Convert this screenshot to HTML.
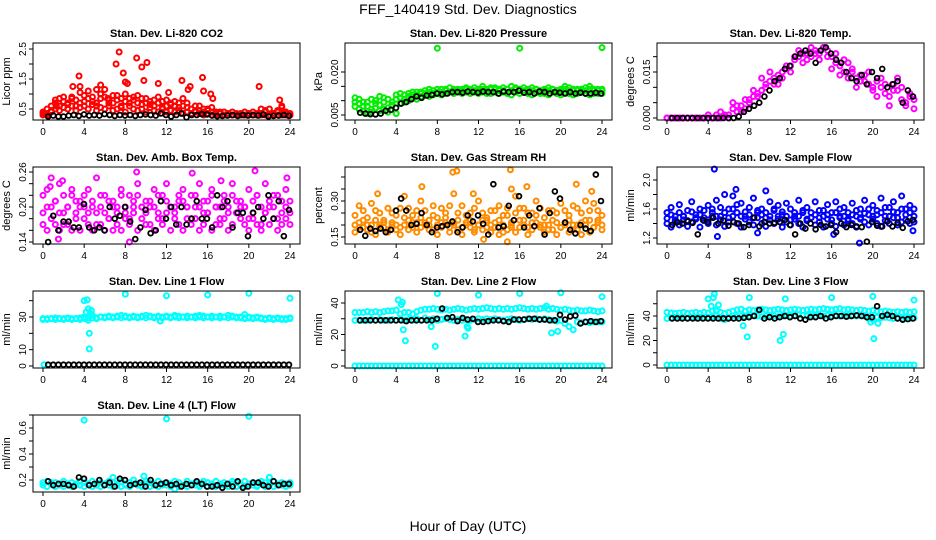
<!DOCTYPE html>
<html><head><meta charset="utf-8"><style>
html,body{margin:0;padding:0;background:#fff;}
svg{display:block;font-family:"Liberation Sans",Arial,sans-serif;}
</style></head><body>
<svg id="c" width="936" height="540" viewBox="0 0 936 540">
<text x="468" y="14" text-anchor="middle" font-size="14">FEF_140419  Std. Dev. Diagnostics</text>
<text x="468" y="531" text-anchor="middle" font-size="14">Hour of Day (UTC)</text>
</svg>
<script>
// ---------- data ----------
const xTicks = [0,4,8,12,16,20,24];
const co2A = [0.35,0.5,0.45,0.8,0.6,0.9,0.7,0.85,0.6,1.25,0.75,1.1,0.9,0.6,0.85,1.15,0.7,0.95,0.8,0.6,1.0,0.85,0.9,0.7,0.65,0.85,0.75,0.6,0.9,0.55,0.8,0.7,0.6,0.55,0.85,0.7,0.5,0.45,0.6,0.5,0.45,0.55,0.4,0.35,0.4,0.35,0.3,0.35,0.3,0.4,0.3,0.3,0.35,0.5,0.45,0.3,0.35,0.4,0.55,0.35,0.3];
const co2B = [0.3,0.3,0.4,0.5,0.45,0.55,0.5,0.6,0.45,0.55,0.6,0.5,0.65,0.45,0.55,0.5,0.6,0.45,0.5,0.55,0.4,0.6,0.5,0.45,0.5,0.4,0.55,0.45,0.4,0.5,0.4,0.45,0.4,0.45,0.35,0.4,0.35,0.4,0.35,0.3,0.35,0.3,0.3,0.35,0.3,0.3,0.3,0.3,0.3,0.3,0.3,0.3,0.3,0.3,0.3,0.3,0.3,0.3,0.3,0.3,0.3];
const co2C = [0.4,0.35,0.6,0.7,0.85,0.75,0.65,0.9,0.8,0.7,0.95,0.85,0.75,0.7,1.0,0.9,0.8,0.7,0.95,0.85,0.75,0.7,0.8,0.95,0.85,0.7,0.65,0.8,0.7,0.75,0.6,0.65,0.75,0.7,0.6,0.55,0.5,0.6,0.45,0.4,0.5,0.4,0.35,0.4,0.3,0.35,0.4,0.3,0.35,0.3,0.35,0.4,0.3,0.35,0.4,0.5,0.3,0.45,0.35,0.4,0.35];
const co2OutH = [2.9,3.5,3.6,5.2,5.6,7.1,7.4,7.8,8,9.1,9.6,9.8,10.1,11.2,13.5,14.1,14.3,15.5,15.6,16.3,16.5,21,23,23.2,1.3,6.3,8.2,12.2];
const co2OutV = [1.25,1.6,1.05,1.15,1.3,2.0,2.4,1.7,1.4,2.2,1.9,1.45,2.05,1.35,1.45,1.15,1.25,1.55,1.1,1.0,0.85,1.25,0.8,0.6,0.6,0.85,1.35,1.05];
const co2K = [0.25,0.28,0.25,0.25,0.28,0.3,0.27,0.32,0.28,0.3,0.28,0.33,0.3,0.27,0.3,0.28,0.3,0.27,0.3,0.32,0.3,0.28,0.35,0.3,0.25,0.3,0.35,0.22,0.3,0.3,0.33,0.32,0.28,0.26,0.27,0.28,0.3,0.27,0.3,0.28,0.3,0.28,0.32,0.25,0.27,0.28,0.3,0.27];

const presA = [0.011,0.009,0.008,0.0095,0.007,0.01,0.0085,0.011,0.0075,0.0095,0.012,0.011,0.0105,0.0115,0.012,0.013,0.0125,0.0135,0.013,0.0125,0.013,0.014,0.0135,0.013,0.014,0.0135,0.014,0.0145,0.014,0.0135,0.014,0.015,0.014,0.0145,0.014,0.0135,0.0145,0.014,0.015,0.0145,0.014,0.0135,0.014,0.0145,0.014,0.013,0.014,0.0145,0.014,0.0135,0.014,0.015,0.0145,0.014,0.0135,0.014,0.0145,0.015,0.014,0.0135,0.014];
const presB = [0.008,0.007,0.0065,0.0055,0.006,0.0075,0.0065,0.007,0.006,0.0085,0.0055,0.009,0.0095,0.01,0.011,0.0105,0.0115,0.012,0.0115,0.012,0.0125,0.012,0.0125,0.013,0.0125,0.013,0.0125,0.013,0.0125,0.013,0.0125,0.013,0.0125,0.0125,0.013,0.0125,0.013,0.0125,0.012,0.013,0.0125,0.013,0.0125,0.012,0.013,0.0125,0.0125,0.012,0.013,0.0125,0.012,0.013,0.0125,0.012,0.0125,0.013,0.0125,0.012,0.0125,0.0125,0.0125];
const presC = [0.0095,0.0105,0.0095,0.008,0.0105,0.009,0.0115,0.0095,0.0105,0.0085,0.0105,0.0125,0.012,0.0125,0.013,0.012,0.013,0.0125,0.014,0.0135,0.014,0.013,0.014,0.0145,0.0135,0.014,0.0135,0.014,0.0135,0.0145,0.0135,0.014,0.0135,0.014,0.0145,0.014,0.0135,0.014,0.0135,0.014,0.0135,0.0145,0.0135,0.0135,0.014,0.0135,0.0135,0.0135,0.014,0.0135,0.0135,0.014,0.0135,0.0135,0.014,0.0135,0.0135,0.014,0.0135,0.014,0.0135];
const presOutH = [8,16,24];
const presOutV = [0.0283,0.0283,0.0285];
const presK = [0.0058,0.0055,0.0053,0.0052,0.0055,0.0065,0.0068,0.0075,0.009,0.0095,0.0105,0.0115,0.011,0.0118,0.012,0.0125,0.0122,0.0125,0.013,0.013,0.0128,0.0132,0.013,0.0128,0.0132,0.013,0.013,0.0125,0.0132,0.013,0.013,0.0135,0.0128,0.013,0.0125,0.0132,0.013,0.0125,0.013,0.0128,0.0125,0.013,0.0125,0.0128,0.0125,0.0125,0.0128,0.0125];

const tempA = [0,0,0,0,0,0,0,0,0,0,0.001,0,0.001,0,0.0005,0.001,0.003,0.002,0.004,0.003,0.006,0.007,0.008,0.009,0.011,0.012,0.013,0.011,0.015,0.016,0.017,0.019,0.02,0.018,0.021,0.02,0.022,0.021,0.023,0.022,0.02,0.021,0.017,0.015,0.018,0.016,0.013,0.012,0.014,0.011,0.009,0.012,0.01,0.008,0.007,0.011,0.009,0.006,0.005,0.008,0.006];
const tempB = [0,0,0,0,0,0,0,0,0,0,0,0,0,0.002,0.001,0,0.005,0.004,0.002,0.006,0.005,0.009,0.007,0.013,0.01,0.015,0.011,0.014,0.013,0.017,0.015,0.02,0.022,0.021,0.019,0.023,0.021,0.019,0.023,0.02,0.016,0.018,0.014,0.019,0.013,0.015,0.01,0.014,0.012,0.015,0.01,0.007,0.013,0.011,0.004,0.009,0.013,0.01,0.004,0.007,0.003];
const tempK = [0,0,0,0,0,0,0,0,0,0,0,0,0,0.0005,0.002,0.003,0.004,0.005,0.007,0.009,0.012,0.013,0.016,0.017,0.02,0.021,0.022,0.021,0.018,0.022,0.023,0.021,0.019,0.018,0.015,0.013,0.012,0.014,0.011,0.015,0.013,0.016,0.01,0.011,0.012,0.005,0.009,0.007];

const ambA = [0.19,0.23,0.18,0.21,0.24,0.17,0.2,0.22,0.19,0.21,0.18,0.23,0.2,0.17,0.22,0.19,0.21,0.16,0.2,0.23,0.18,0.22,0.19,0.24,0.2,0.21,0.17,0.23,0.19,0.22,0.24,0.2,0.18,0.21,0.23,0.2,0.22,0.18,0.24,0.19,0.21,0.23,0.17,0.2,0.22,0.19,0.24,0.21,0.18,0.2,0.23,0.19,0.22,0.17,0.24,0.2,0.22,0.18,0.21,0.23,0.19];
const ambB = [0.17,0.16,0.2,0.17,0.16,0.19,0.17,0.16,0.18,0.16,0.2,0.17,0.16,0.19,0.17,0.16,0.18,0.2,0.17,0.16,0.19,0.17,0.2,0.16,0.18,0.17,0.2,0.16,0.18,0.17,0.19,0.16,0.2,0.17,0.16,0.18,0.17,0.2,0.16,0.17,0.19,0.16,0.2,0.17,0.18,0.16,0.17,0.19,0.2,0.17,0.16,0.18,0.17,0.16,0.19,0.17,0.18,0.16,0.17,0.18,0.17];
const ambC = [0.22,0.2,0.25,0.21,0.19,0.22,0.2,0.23,0.21,0.2,0.22,0.19,0.21,0.25,0.2,0.22,0.18,0.21,0.19,0.22,0.2,0.18,0.21,0.22,0.2,0.19,0.21,0.2,0.22,0.18,0.21,0.2,0.19,0.22,0.21,0.2,0.18,0.22,0.2,0.21,0.19,0.22,0.2,0.18,0.21,0.2,0.22,0.19,0.21,0.2,0.18,0.21,0.22,0.2,0.19,0.21,0.2,0.22,0.19,0.2,0.21];
const ambOutH = [0.7,1.5,1.9,9.1,14.5,20.6,23.7,8.4,17.3];
const ambOutV = [0.235,0.145,0.245,0.26,0.258,0.262,0.25,0.14,0.245];
const ambK = [0.14,0.185,0.16,0.175,0.175,0.165,0.165,0.205,0.165,0.16,0.165,0.16,0.2,0.18,0.185,0.2,0.175,0.145,0.165,0.195,0.155,0.16,0.21,0.18,0.2,0.17,0.2,0.17,0.18,0.21,0.18,0.18,0.165,0.22,0.2,0.21,0.165,0.19,0.19,0.15,0.19,0.2,0.18,0.22,0.18,0.21,0.15,0.195];

const rhA = [0.2,0.28,0.19,0.23,0.17,0.26,0.2,0.22,0.18,0.25,0.2,0.27,0.32,0.22,0.19,0.26,0.3,0.21,0.18,0.24,0.2,0.27,0.23,0.19,0.33,0.22,0.28,0.2,0.25,0.18,0.3,0.22,0.19,0.26,0.21,0.28,0.17,0.24,0.2,0.32,0.22,0.27,0.19,0.25,0.3,0.2,0.23,0.18,0.26,0.21,0.29,0.2,0.24,0.18,0.27,0.21,0.3,0.22,0.19,0.26,0.2];
const rhB = [0.17,0.19,0.22,0.18,0.2,0.16,0.19,0.21,0.17,0.2,0.18,0.16,0.2,0.18,0.21,0.17,0.19,0.2,0.22,0.18,0.16,0.19,0.21,0.17,0.2,0.18,0.16,0.21,0.19,0.17,0.2,0.18,0.22,0.17,0.19,0.16,0.2,0.18,0.21,0.17,0.19,0.2,0.16,0.18,0.21,0.19,0.17,0.2,0.18,0.16,0.19,0.21,0.17,0.2,0.18,0.16,0.2,0.17,0.19,0.21,0.18];
const rhC = [0.24,0.21,0.26,0.2,0.29,0.22,0.25,0.19,0.27,0.21,0.24,0.19,0.23,0.27,0.24,0.21,0.23,0.26,0.2,0.28,0.23,0.21,0.25,0.28,0.21,0.25,0.19,0.24,0.22,0.27,0.2,0.25,0.23,0.2,0.26,0.22,0.24,0.27,0.19,0.25,0.27,0.22,0.25,0.21,0.24,0.27,0.2,0.26,0.22,0.25,0.19,0.26,0.22,0.28,0.2,0.25,0.22,0.26,0.29,0.22,0.24];
const rhOutH = [9.5,9.9,15.1,14.8,2.2,6.5,11.5,16.7,21.5,23,12.5,15.2];
const rhOutV = [0.42,0.425,0.43,0.13,0.33,0.36,0.33,0.36,0.37,0.34,0.14,0.35];
const rhK = [0.18,0.155,0.185,0.175,0.185,0.17,0.18,0.26,0.31,0.26,0.2,0.205,0.25,0.2,0.17,0.19,0.195,0.2,0.215,0.17,0.19,0.24,0.215,0.24,0.205,0.16,0.37,0.19,0.195,0.28,0.22,0.32,0.19,0.24,0.195,0.27,0.16,0.25,0.34,0.31,0.21,0.18,0.165,0.2,0.185,0.175,0.41,0.3];

const sfA = [1.55,1.62,1.5,1.66,1.45,1.58,1.7,1.52,1.6,1.48,1.65,1.55,1.72,1.5,1.8,1.6,1.78,1.55,1.68,1.5,1.62,1.75,1.55,1.6,1.48,1.7,1.58,1.65,1.52,1.68,1.6,1.5,1.72,1.55,1.62,1.48,1.7,1.58,1.5,1.66,1.55,1.7,1.48,1.62,1.55,1.68,1.5,1.6,1.72,1.52,1.65,1.58,1.75,1.5,1.62,1.7,1.55,1.78,1.6,1.65,1.6];
const sfB = [1.4,1.35,1.45,1.38,1.5,1.36,1.42,1.48,1.35,1.44,1.4,1.5,1.38,1.45,1.36,1.42,1.5,1.4,1.35,1.46,1.42,1.38,1.48,1.4,1.36,1.45,1.4,1.5,1.35,1.42,1.38,1.46,1.4,1.35,1.44,1.48,1.38,1.42,1.35,1.46,1.4,1.36,1.5,1.38,1.44,1.4,1.35,1.46,1.42,1.38,1.5,1.4,1.36,1.44,1.4,1.48,1.38,1.42,1.45,1.4,1.42];
const sfC = [1.47,1.52,1.42,1.55,1.5,1.44,1.56,1.46,1.52,1.58,1.45,1.6,1.5,1.62,1.55,1.48,1.6,1.66,1.5,1.56,1.52,1.48,1.58,1.52,1.55,1.5,1.6,1.46,1.56,1.5,1.45,1.55,1.5,1.58,1.46,1.55,1.52,1.48,1.58,1.52,1.45,1.55,1.6,1.5,1.46,1.52,1.58,1.48,1.54,1.6,1.46,1.52,1.55,1.62,1.5,1.56,1.48,1.6,1.52,1.55,1.5];
const sfOutH = [4.6,4.9,9.6,6.7,16.2,18.7,23.9,8.8];
const sfOutV = [2.15,1.22,1.85,1.87,1.25,1.13,1.3,1.27];
const sfK = [1.38,1.42,1.4,1.43,1.41,1.25,1.45,1.42,1.48,1.4,1.44,1.37,1.42,1.4,1.35,1.38,1.48,1.36,1.42,1.4,1.41,1.42,1.45,1.38,1.25,1.4,1.33,1.4,1.32,1.38,1.36,1.38,1.28,1.4,1.35,1.38,1.36,1.35,1.15,1.42,1.37,1.36,1.43,1.36,1.41,1.34,1.43,1.45];

const l1A = [29,29,29,29.5,29,29,29.5,29,29,29.5,30,28,31,29,30,30,30.5,30,30.5,31,30.5,30,30.5,30,30.5,31,30.5,30,30.5,30,30.5,30,31,30.5,30,30.5,30,30.5,31,30.5,30,30.5,30,30.5,30,31,30.5,30,30,29.5,30,29.5,30,29.5,29,29.5,29,29.5,29,29,29.5];
const l1B = [28.5,28.5,29,28.5,29,28.5,29,28.5,29,28.5,29.5,29.5,29.5,29.5,30,29.5,30,29.5,30,29.5,30,29.5,30,29.5,30,29.5,30,29.5,30,29.5,30,29.5,30,29.5,30,29.5,30,29.5,30,29.5,30,29.5,30,29.5,30,29.5,30,29.5,29.5,29,29.5,29,29.5,29,28.5,29,28.5,29,28.5,28.5,29];
const l1OutH = [4.0,4.3,4.5,4.2,4.4,4.6,4.5,8,12,16,20,24,4.1,4.7,19.6,11.4,0.1];
const l1OutV = [40,40.5,20,33,35,32,10.5,44,43,43.5,44.5,41.5,29,34,31.5,27.5,0.8];
const l1K = [0.8,0.8,0.8,0.8,0.8,0.8,0.8,0.8,0.8,0.8,0.8,0.8,0.8,0.8,0.8,0.8,0.8,0.8,0.8,0.8,0.8,0.8,0.8,0.8,0.8,0.8,0.8,0.8,0.8,0.8,0.8,0.8,0.8,0.8,0.8,0.8,0.8,0.8,0.8,0.8,0.8,0.8,0.8,0.8,0.8,0.8,0.8,0.8];

const l2A = [34,34,34,34.5,34,34.5,34,34.5,35,35,35.5,33,34,34,33,34.5,35.5,36,36,36.5,36,35.5,36,35.5,36,36.5,36,35.5,36,36.5,36,36.5,37,36.5,36,36.5,36,36.5,36,36.5,37,36.5,36,36.5,36,36.5,37,36,36.5,36,35.5,36,35.5,35,35.5,35,35,35.5,35,34.5,35];
const l2B = [29,29,29,29,29.5,29,29.5,29,29,29.5,29,29.5,29,29.5,29,30,29,30.5,29.5,30,29,29.5,30,29.5,29,29.5,29,29.5,29,29.5,30,29.5,30,29.5,30,29.5,29,29.5,30,29.5,29,29.5,30,29.5,30,29.5,30,29.5,29,28.5,29,27,25,23,28,27.5,28,27.5,28,28,28];
const l2Z = [0,0,0,0,0,0,0,0,0,0,0,0,0,0,0,0,0,0,0,0,0,0,0,0,0,0,0,0,0,0,0,0,0,0,0,0,0,0,0,0,0,0,0,0,0,0,0,0,0,0,0,0,0,0,0,0,0,0,0,0,0];
const l2OutH = [4.2,4.5,4.6,4.7,4.9,7.4,7.8,8.0,10.7,11,10.9,12,16,18.6,19.7,20,19.1,24];
const l2OutV = [42,39,40.5,23,16,25,12.5,46,19,24,25,45,46,38,22,46.5,21,44];
const l2K = [29,29,29,29,29,29,29,29,29,28.5,29,29,29,29,29,30,36.5,30.5,31,28.5,30.5,29.5,30,28,28,28.5,29,29,28.5,28,29.5,29.5,29.5,30,30,29.5,29.5,29,29,32.5,29.5,31.5,32,27,28,28.5,28,28.5];

const l3A = [43,42.5,42,42.5,43,42,42.5,43,42,43,42.5,44,45,43,42,43,44,45,45.5,44,45,44.5,45,45.5,45,44.5,45,45.5,45,44.5,45,45.5,45,44.5,45,45.5,45,45.5,46,45.5,45,45.5,46,45,45.5,45,44.5,45,44.5,44,44.5,44,43.5,44,43.5,43,43.5,43,43.5,43,43.5];
const l3B = [38,38.5,39,38.5,39,38.5,39,38.5,39,38.5,39,39.5,40,38,37,39,40,39.5,40,39.5,40,40.5,40,39.5,40,40.5,40,39.5,40,40.5,40,40.5,41,40.5,40,40.5,40,40.5,40,40.5,40,40.5,40,40.5,40,40.5,40,40.5,40,38,37,39,38.5,39,38.5,38,38.5,38,38.5,38,38.5];
const l3Z = [0,0,0,0,0,0,0,0,0,0,0,0,0,0,0,0,0,0,0,0,0,0,0,0,0,0,0,0,0,0,0,0,0,0,0,0,0,0,0,0,0,0,0,0,0,0,0,0,0,0,0,0,0,0,0,0,0,0,0,0,0];
const l3OutH = [4,4.3,4.5,4.6,4.8,5,7.4,7.8,8,11,11.3,11.5,16,19.8,20,20.1,20.5,24];
const l3OutV = [54,48,55,58,44,49,32,23,55,20,25,54,55,35,56,21.5,34,53];
const l3K = [38,38,38,38,38,38,38,38,38,38,38,38,38,38,38.5,39,40,45,38,39,38,39,40,39,40,38,37,39,39,40,38,39,40,40,39.5,40,40.5,40,39,39,48,40,41,40,38,37,37.5,38];

const l4A = [0.18,0.19,0.17,0.18,0.16,0.19,0.17,0.18,0.16,0.19,0.18,0.17,0.19,0.16,0.18,0.17,0.19,0.18,0.16,0.19,0.17,0.18,0.2,0.17,0.16,0.19,0.18,0.17,0.19,0.16,0.18,0.17,0.19,0.18,0.16,0.19,0.17,0.18,0.16,0.19,0.18,0.17,0.19,0.16,0.18,0.17,0.19,0.18,0.16,0.19,0.17,0.18,0.16,0.19,0.18,0.17,0.19,0.16,0.18,0.17,0.18];
const l4B = [0.16,0.15,0.18,0.15,0.17,0.15,0.16,0.15,0.17,0.16,0.15,0.17,0.15,0.16,0.15,0.17,0.16,0.15,0.17,0.15,0.16,0.15,0.17,0.16,0.15,0.17,0.15,0.16,0.15,0.17,0.16,0.15,0.13,0.15,0.16,0.15,0.17,0.16,0.15,0.17,0.15,0.16,0.15,0.17,0.16,0.15,0.17,0.15,0.16,0.15,0.17,0.16,0.15,0.17,0.15,0.16,0.15,0.17,0.16,0.15,0.16];
const l4OutH = [4,12,20,9.8,6.8,22];
const l4OutV = [0.66,0.67,0.69,0.23,0.22,0.22];
const l4K = [0.19,0.16,0.17,0.17,0.16,0.15,0.22,0.21,0.16,0.17,0.2,0.16,0.18,0.15,0.21,0.2,0.16,0.17,0.18,0.15,0.2,0.16,0.17,0.18,0.16,0.17,0.15,0.17,0.16,0.19,0.17,0.15,0.15,0.16,0.14,0.17,0.15,0.19,0.14,0.15,0.18,0.18,0.16,0.15,0.19,0.16,0.17,0.17];

// ---------- rendering ----------
const NS = "http://www.w3.org/2000/svg";
const svg = document.getElementById('c');
function mk(tag, attrs, parent){
  const e = document.createElementNS(NS, tag);
  for (const k in attrs) e.setAttribute(k, attrs[k]);
  (parent||svg).appendChild(e);
  return e;
}
const panels = [
 {id:'co2',title:'Stan. Dev. Li-820 CO2',ylab:'Licor ppm',col:0,row:0,ref:[0.5,109,2.5,49],ticks:[0.5,1,1.5,2,2.5],labels:['0.5','1.5','2.5'],color:'#ff0000',series:[co2A,co2B,co2C],outH:co2OutH,outV:co2OutV,k:co2K},
 {id:'pressure',title:'Stan. Dev. Li-820 Pressure',ylab:'kPa',col:1,row:0,ref:[0.005,115,0.020,72],ticks:[0.005,0.010,0.015,0.020],labels:['0.005','0.020'],color:'#00ee00',series:[presA,presB,presC],outH:presOutH,outV:presOutV,k:presK},
 {id:'temp',title:'Stan. Dev. Li-820 Temp.',ylab:'degrees C',col:2,row:0,ref:[0,118,0.015,72],ticks:[0,0.005,0.010,0.015,0.020],labels:['0.000','0.015'],color:'#ff00ff',series:[tempA,tempB],outH:[],outV:[],k:tempK},
 {id:'ambbox',title:'Stan. Dev. Amb. Box Temp.',ylab:'degrees C',col:0,row:1,ref:[0.14,242,0.26,172],ticks:[0.14,0.16,0.18,0.20,0.22,0.24,0.26],labels:['0.14','0.20','0.26'],color:'#ff00ff',series:[ambA,ambB,ambC],outH:ambOutH,outV:ambOutV,k:ambK},
 {id:'rh',title:'Stan. Dev. Gas Stream RH',ylab:'percent',col:1,row:1,ref:[0.15,237,0.30,201],ticks:[0.15,0.20,0.25,0.30,0.35,0.40],labels:['0.15','0.30'],color:'#ff8c00',series:[rhA,rhB,rhC],outH:rhOutH,outV:rhOutV,k:rhK},
 {id:'sampleflow',title:'Stan. Dev. Sample Flow',ylab:'ml/min',col:2,row:1,ref:[1.2,238,2.0,180],ticks:[1.2,1.4,1.6,1.8,2.0],labels:['1.2','1.6','2.0'],color:'#0000ff',series:[sfA,sfB,sfC],outH:sfOutH,outV:sfOutV,k:sfK},
 {id:'line1',title:'Stan. Dev. Line 1 Flow',ylab:'ml/min',col:0,row:2,ref:[0,366,30,317],ticks:[0,10,20,30,40],labels:['0','10','30'],color:'#00ffff',series:[l1A,l1B],outH:l1OutH,outV:l1OutV,k:l1K},
 {id:'line2',title:'Stan. Dev. Line 2 Flow',ylab:'ml/min',col:1,row:2,ref:[0,366,40,303],ticks:[0,10,20,30,40],labels:['0','20','40'],color:'#00ffff',series:[l2Z,l2A,l2B],outH:l2OutH,outV:l2OutV,k:l2K},
 {id:'line3',title:'Stan. Dev. Line 3 Flow',ylab:'ml/min',col:2,row:2,ref:[0,365,40,316],ticks:[0,10,20,30,40,50],labels:['0','20','40'],color:'#00ffff',series:[l3Z,l3A,l3B],outH:l3OutH,outV:l3OutV,k:l3K},
 {id:'line4',title:'Stan. Dev. Line 4 (LT) Flow',ylab:'ml/min',col:0,row:3,ref:[0.2,480,0.6,428],ticks:[0.2,0.3,0.4,0.5,0.6,0.7],labels:['0.2','0.4','0.6'],color:'#00ffff',series:[l4A,l4B],outH:l4OutH,outV:l4OutV,k:l4K}
];
function fmt(v, labels){ for (const l of labels) if (Math.abs(parseFloat(l)-v)<1e-9) return l; return null; }

panels.forEach(p=>{
  const bx0 = 33 + 312*p.col, bx1 = bx0 + 267;
  const by0 = 43 + 124*p.row, by1 = by0 + 77;
  const xs = h => bx0 + 10 + h*247/24;
  const [v1,p1,v2,p2] = p.ref;
  const ys = v => p1 + (v - v1)*(p2 - p1)/(v2 - v1);
  const g = mk('g', {});
  
  
  const t = mk('text', {x:(bx0+bx1)/2, y:by0-6, 'text-anchor':'middle','font-size':11,'font-weight':'bold'}, g);
  t.textContent = p.title;
  
  
  const yl = mk('text', {x:0,y:0,'text-anchor':'middle','font-size':11,transform:`translate(${bx0-23},${(by0+by1)/2}) rotate(-90)`}, g);
  yl.textContent = p.ylab;
  
  
  const pts = mk('g', {fill:'none', stroke:p.color, 'stroke-width':2}, g);
  
  
  p.series.forEach(arr=>{
    arr.forEach((v,i)=>{
      const h = arr.length>1 ? i*24/(arr.length-1) : 0;
      const c = mk('circle', {cx:xs(h), cy:ys(v), r:2.5}, pts);
      
      
    });
  });
  p.outH.forEach((h,i)=>{
    const c = mk('circle', {cx:xs(h), cy:ys(p.outV[i]), r:2.5}, pts);
    
    
  });
  const kg = mk('g', {fill:'none', stroke:'#000', 'stroke-width':1.8}, g);
  
  
  p.k.forEach((v,i)=>{
    const h = 0.5 + i*(23.9-0.5)/(p.k.length-1);
    const c = mk('circle', {cx:xs(h), cy:ys(v), r:2.4}, kg);
    
    
  });
  const box = mk('rect', {x:bx0, y:by0, width:bx1-bx0, height:by1-by0, fill:'none', stroke:'#000', 'stroke-width':1}, g);
  
  
  const xa = mk('g', {stroke:'#000','stroke-width':1}, g);
  
  
  mk('line', {x1:xs(0), x2:xs(24), y1:by1, y2:by1}, xa);
  xTicks.forEach(h=>{
    mk('line', {x1:xs(h), x2:xs(h), y1:by1, y2:by1+4}, xa);
    const tl = mk('text', {x:xs(h), y:by1+15, 'text-anchor':'middle','font-size':10, stroke:'none', fill:'#000'}, xa);
    tl.textContent = h;
    
    
  });
  const ya = mk('g', {stroke:'#000','stroke-width':1}, g);
  
  
  mk('line', {x1:bx0, x2:bx0, y1:ys(p.ticks[0]), y2:ys(p.ticks[p.ticks.length-1])}, ya);
  p.ticks.forEach(v=>{
    const y = ys(v);
    mk('line', {x1:bx0-4, x2:bx0, y1:y, y2:y}, ya);
    const s = fmt(v, p.labels);
    if (s!==null){
      const tl = mk('text', {x:0,y:0,'text-anchor':'middle','font-size':10, stroke:'none', fill:'#000', transform:`translate(${bx0-7},${y}) rotate(-90)`}, ya);
      tl.textContent = s;
      
      
    }
  });
});
</script>
</body></html>
